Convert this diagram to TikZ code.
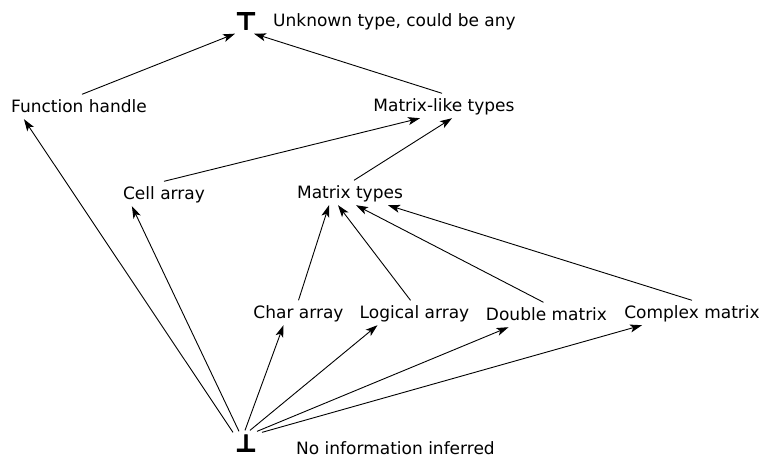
\documentclass[tikz,border=0pt]{standalone}
\usepackage{fontspec}
\setmainfont{DejaVu Sans}
\newfontfamily\latticefont[FakeBold=2.5]{DejaVu Sans Bold}
\usetikzlibrary{arrows.meta}

\begin{document}
\begin{tikzpicture}[x=1pt,y=-1pt,
    lbl/.style={anchor=base, inner xsep=0pt, inner ysep=3pt, text height=14.5pt, text depth=4pt, font=\fontsize{17}{20}\selectfont},
    note/.style={anchor=base west, inner sep=0pt, font=\fontsize{17}{20}\selectfont},
    sym/.style={inner xsep=0pt, font=\latticefont\fontsize{24}{24}\selectfont},
    sub/.style={-{Stealth[length=12pt,width=8pt,inset=3pt]}, line width=0.9pt}]
    \useasboundingbox (0,0) rectangle (762,459);

    % top and bottom of the lattice
    \node[sym, inner ysep=4pt] (top) at (246,21) {⊤};
    \node[note] (topnote) at (273,26) {Unknown type, could be any};
    \node[sym, inner ysep=0pt] (bot) at (246,443) {⊥};
    \node[note] (botnote) at (296,454) {No information inferred};

    \node[lbl] (fh) at (79,112) {Function handle};
    \node[lbl] (ml) at (444,111) {Matrix-like types};
    \node[lbl] (ca) at (164,199) {Cell array};
    \node[lbl] (mt) at (350,198) {Matrix types};
    \node[lbl] (ch) at (298.5,318) {Char array};
    \node[lbl] (la) at (414.5,318) {Logical array};
    \node[lbl] (dm) at (546.5,320) {Double matrix};
    \node[lbl] (cm) at (692,318) {Complex matrix};

    \draw[sub] ([xshift=3pt]fh.north) -- ([xshift=-11pt]top.south);
    \draw[sub] ([xshift=-2pt]ml.north) -- ([xshift=8pt]top.south);
    \draw[sub] (ca.north) -- ([xshift=-24pt]ml.south);
    \draw[sub] ([xshift=4pt]mt.north) -- ([xshift=8pt]ml.south);

    \draw[sub] (ch.north) -- ([xshift=-21pt]mt.south);
    \draw[sub] ([xshift=-4pt]la.north) -- ([xshift=-12pt]mt.south);
    \draw[sub] ([xshift=-3pt]dm.north) -- ([xshift=6pt]mt.south);
    \draw[sub] (cm.north) -- ([xshift=38pt]mt.south);

    \draw[sub] ([xshift=-13pt,yshift=2pt]bot.north) -- ([xshift=13pt]fh.south west);
    \draw[sub] ([xshift=-7pt,yshift=3pt]bot.north) -- ([xshift=9pt]ca.south west);
    \draw[sub] ([xshift=-1pt,yshift=4pt]bot.north) -- ([xshift=-15pt]ch.south);
    \draw[sub] ([xshift=4pt,yshift=4pt]bot.north) -- ([xshift=-37pt]la.south);
    \draw[sub] ([xshift=11pt,yshift=3pt]bot.north) -- ([xshift=-38pt]dm.south);
    \draw[sub] ([xshift=16pt,yshift=2pt]bot.north) -- ([xshift=-50pt]cm.south);

\end{tikzpicture}
\end{document}
